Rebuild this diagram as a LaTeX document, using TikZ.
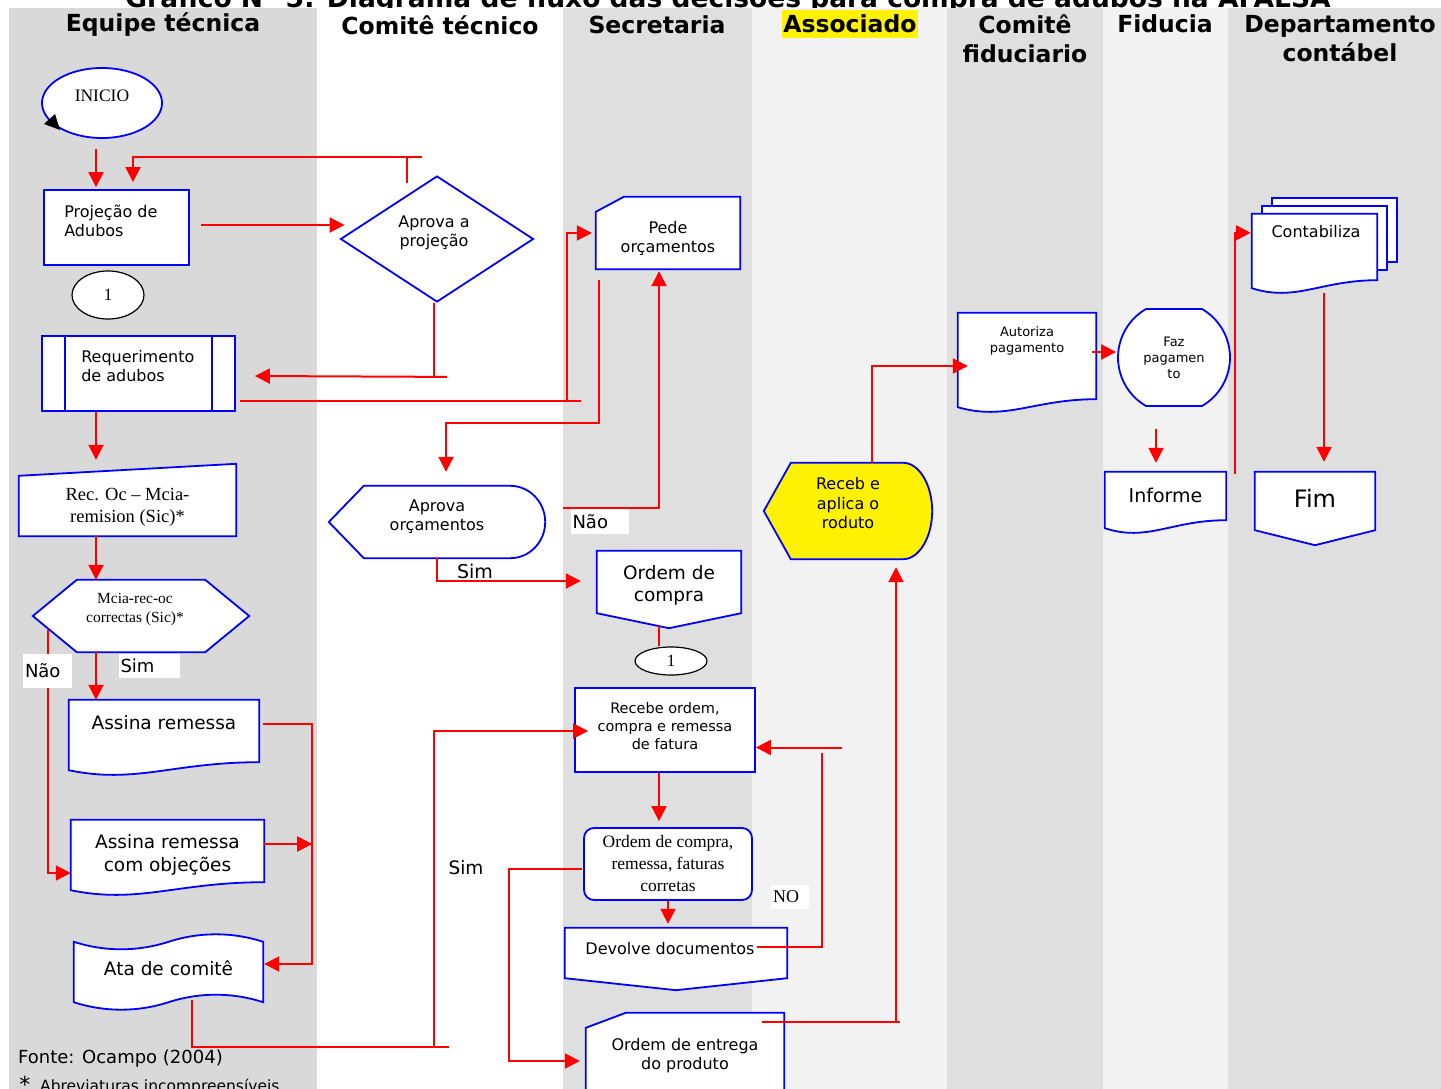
\documentclass[tikz,border=0pt]{standalone}
\usepackage{fontspec}
\setmainfont{DejaVu Sans}
\newfontfamily\timesfont{Liberation Serif}
\usepackage{xcolor}
\usepackage{tikz}
\usetikzlibrary{shapes,arrows.meta,positioning,calc,backgrounds}

\definecolor{lanegray}{RGB}{217,217,217}
\definecolor{lanemid}{RGB}{223,223,223}
\definecolor{lanelight}{RGB}{242,242,242}

\begin{document}
\begin{tikzpicture}[x=1pt, y=-1pt, >={Triangle[length=15pt, width=15pt]}]
    % Styles
    \tikzstyle{block} = [rectangle, draw=blue, fill=white, line width=1.8pt, inner sep=0pt]
    \tikzstyle{oval} = [ellipse, draw=blue, fill=white, line width=1.8pt, inner sep=0pt]
    \tikzstyle{outline} = [draw=blue, fill=white, line width=1.8pt]
    \tikzstyle{holder} = [rectangle, inner sep=0pt]
    \tikzstyle{connector} = [ellipse, draw=black, fill=white, line width=1.2pt, inner sep=0pt, font=\timesfont\fontsize{17}{20}\selectfont]
    \tikzstyle{txt} = [align=center, inner sep=0pt, font=\fontsize{16}{19}\selectfont]
    \tikzstyle{serif} = [align=center, inner sep=0pt, font=\timesfont\fontsize{17.5}{22}\selectfont]
    \tikzstyle{head} = [align=center, font=\bfseries\fontsize{23.5}{29}\selectfont]
    \tikzstyle{tag} = [fill=white, inner sep=0pt, align=left, font=\fontsize{18}{21}\selectfont]
    \tikzstyle{line} = [draw=red, line width=2pt, ->]
    \tikzstyle{wire} = [draw=red, line width=2pt]

    \useasboundingbox (0,0) rectangle (1441,1089);

    % Lanes
    \begin{scope}[on background layer]
        \node[head, anchor=base, font=\bfseries\fontsize{26.5}{30}\selectfont] (title) at (728,7.5) {Gráfico N° 5: Diagrama de fluxo das decisões para compra de adubos na AFALSA};
        \fill[lanegray] (9,8) rectangle (317,1089);
        \fill[white] (317,8) rectangle (563,1089);
        \fill[lanemid] (563,8) rectangle (752,1089);
        \fill[lanelight] (752,8) rectangle (947,1089);
        \fill[lanemid] (947,8) rectangle (1103,1089);
        \fill[lanelight] (1103,8) rectangle (1228,1089);
        \fill[lanemid] (1228,8) rectangle (1441,1089);
    \end{scope}

    % Headers
    \node[head] (h-equipe) at (163,25) {Equipe técnica};
    \node[head] (h-comite) at (440,25) {Comitê técnico};
    \node[head] (h-secret) at (657,25) {Secretaria};
    \node[head, fill=yellow, inner sep=1pt, minimum height=28pt] (h-assoc) at (850,24) {Associado};
    \node[head] (h-comfid) at (1025,39) {Comitê\\fiduciario};
    \node[head] (h-fiducia) at (1165,24) {Fiducia};
    \node[head] (h-depto) at (1340,39) {Departamento\\contábel};

    % Nodes: Equipe tecnica
    \node[oval, minimum width=120pt, minimum height=70pt] (inicio) at (102,103) {};
    \node[serif] (inicio-t) at ($(inicio)+(0,-7)$) {INICIO};
    \fill[black] ($(inicio)+(-58,21)$) -- ($(inicio)+(-47,11)$) -- ($(inicio)+(-42,27)$) -- cycle;
    \node[block, minimum width=145pt, minimum height=75pt] (projecao) at (116.5,227.5) {};
    \node[txt, anchor=west, align=left] (projecao-t) at ($(projecao.west)+(21,-7)$) {Projeção de\\Adubos};
    \node[connector, minimum width=72pt, minimum height=48pt] (c1) at (108,295) {1};
    \node[block, minimum width=193pt, minimum height=75pt] (req) at (138.5,373.5) {};
    \draw[blue, line width=1.8pt] ($(req.north west)+(24,0)$) -- ($(req.south west)+(24,0)$)
        ($(req.north east)+(-24,0)$) -- ($(req.south east)+(-24,0)$);
    \node[txt, anchor=west, align=left] (req-t) at ($(req.west)+(40,-7)$) {Requerimento\\de adubos};
    \node[holder, minimum width=217pt, minimum height=72pt] (recoc) at (127.5,500) {};
    \node[serif, font=\timesfont\fontsize{18.5}{22}\selectfont] (recoc-t) at ($(recoc)+(0,7)$) {Rec. Oc – Mcia-\\remision (Sic)*};
    \node[holder, minimum width=216pt, minimum height=72pt] (hexa) at (141,616) {};
    \node[serif, font=\timesfont\fontsize{15.5}{19}\selectfont] (hexa-t) at ($(hexa)+(-6,-6)$) {Mcia-rec-oc\\correctas (Sic)*};
    \node[holder, minimum width=190pt, minimum height=76pt] (assina) at (164,738) {};
    \node[txt, font=\fontsize{18.5}{23}\selectfont] (assina-t) at ($(assina)+(0,-15)$) {Assina remessa};
    \node[holder, minimum width=193pt, minimum height=76pt] (objecoes) at (167.5,858) {};
    \node[txt, font=\fontsize{18.5}{23}\selectfont] (objecoes-t) at ($(objecoes)+(0,-3.5)$) {Assina remessa\\com objeções};
    \node[holder, minimum width=189pt, minimum height=60pt] (ata) at (168.5,972) {};
    \node[txt, font=\fontsize{18.5}{23}\selectfont] (ata-t) at ($(ata)+(0,-4)$) {Ata de comitê};

    % Nodes: Comite tecnico
    \node[diamond, draw=blue, fill=white, line width=1.8pt, inner sep=0pt, minimum width=193pt, minimum height=126pt] (ap) at (437,239) {};
    \node[txt] (ap-t) at ($(ap)+(-3,-6)$) {Aprova a\\projeção};
    \node[holder, minimum width=216pt, minimum height=72pt] (aprovaorc) at (437,522) {};
    \node[txt] (aprovaorc-t) at ($(aprovaorc)+(0,-5.5)$) {Aprova\\orçamentos};
    \node[txt, font=\fontsize{19}{22}\selectfont] (sim2) at (475,571) {Sim};
    \node[txt, font=\fontsize{18.5}{22}\selectfont] (sim3) at (466,868) {Sim};

    % Nodes: Secretaria
    \node[holder, minimum width=144pt, minimum height=72pt] (pede) at (668,233) {};
    \node[txt] (pede-t) at ($(pede)+(0,5)$) {Pede\\orçamentos};
    \node[holder, minimum width=144pt, minimum height=77pt] (ordem) at (669,589.5) {};
    \node[txt, font=\fontsize{18.5}{22}\selectfont] (ordem-t) at ($(ordem)+(0,-4.5)$) {Ordem de\\compra};
    \node[connector, minimum width=72pt, minimum height=28pt] (c2) at (671,661) {1};
    \node[block, minimum width=180pt, minimum height=84pt] (recebe) at (665,730) {};
    \node[txt, font=\fontsize{14.5}{18}\selectfont] (recebe-t) at ($(recebe)+(0,-4)$) {Recebe ordem,\\compra e remessa\\de fatura};
    \node[block, rounded corners=10pt, serif, minimum width=168pt, minimum height=72pt] (corretas) at (668,864) {Ordem de compra,\\remessa, faturas\\corretas};
    \node[holder, minimum width=222pt, minimum height=62pt] (devolve) at (676,959) {};
    \node[txt] (devolve-t) at ($(devolve)+(-6,-10)$) {Devolve documentos};
    \node[holder, txt, minimum width=198pt, minimum height=86pt] (entrega) at (685,1056) {Ordem de entrega\\do produto};

    % Nodes: Associado, Comite fiduciario, Fiducia, Departamento
    \node[holder, minimum width=168pt, minimum height=96pt] (receb) at (848,511) {};
    \node[txt, font=\fontsize{16}{19.5}\selectfont] (receb-t) at ($(receb)+(0,-7.5)$) {Receb e\\aplica o\\roduto};
    \node[holder, minimum width=138pt, minimum height=100pt] (autoriza) at (1027,363) {};
    \node[txt, font=\fontsize{13}{16}\selectfont] (autoriza-t) at ($(autoriza)+(0,-22)$) {Autoriza\\pagamento};
    \node[rounded rectangle, rounded rectangle arc length=120, draw=blue, fill=white, line width=1.8pt, txt, font=\fontsize{13}{16}\selectfont, minimum width=112pt, minimum height=97pt] (faz) at (1174,357.5) {Faz\\pagamen\\to};
    \node[holder, minimum width=121pt, minimum height=62pt] (informe) at (1165.5,503) {};
    \node[txt, font=\fontsize{19}{22}\selectfont] (informe-t) at ($(informe)+(0,-8)$) {Informe};
    \node[holder, minimum width=125pt, minimum height=80pt] (contab) at (1314.5,254) {};
    \node[txt] (contab-t) at ($(contab)+(1.5,-22)$) {Contabiliza};
    \node[holder, minimum width=120pt, minimum height=73pt] (fim) at (1315,508.5) {};
    \node[txt, font=\fontsize{24}{28}\selectfont] (fim-t) at ($(fim)+(0,-10.5)$) {Fim};

    % Outlines
    \begin{scope}[on background layer]
        \foreach \off in {20,10}
            \path[outline] ($(contab.north west)+(\off,{-0.8*\off})$) rectangle ($(contab.south east)+(\off,{-16-0.8*\off})$);
        \foreach \nm in {assina,objecoes,autoriza,informe,contab}
            \path[outline] (\nm.north west) -- (\nm.north east) -- ($(\nm.south east)+(0,-14)$)
                .. controls ($(\nm.south east)!.45!(\nm.south west)+(0,-14)$) and ($(\nm.south east)!.65!(\nm.south west)+(0,8)$)
                .. ($(\nm.south west)+(0,-6)$) -- cycle;
        \foreach \nm/\dep in {ordem/15,devolve/12,fim/15}
            \path[outline] (\nm.north west) -- (\nm.north east) -- ($(\nm.south east)+(0,-\dep)$) -- (\nm.south) -- ($(\nm.south west)+(0,-\dep)$) -- cycle;
        \foreach \nm/\dx/\dy in {pede/28/15,entrega/40/15}
            \path[outline] ($(\nm.north west)+(0,\dy)$) -- ($(\nm.north west)+(\dx,0)$) -- (\nm.north east) -- (\nm.south east) -- (\nm.south west) -- cycle;
        \foreach \nm/\lft/\rgt/\bend/\col in {aprovaorc/35/35/20/white,receb/27/29/26/yellow}
            \path[outline, fill=\col] (\nm.west) -- ($(\nm.north west)+(\lft,0)$) -- ($(\nm.north east)+(-\rgt,0)$)
                .. controls ($(\nm.north east)+({-0.45*\rgt},0)$) and ($(\nm.east)+(0,-\bend)$) .. (\nm.east)
                .. controls ($(\nm.east)+(0,\bend)$) and ($(\nm.south east)+({-0.45*\rgt},0)$) .. ($(\nm.south east)+(-\rgt,0)$)
                -- ($(\nm.south west)+(\lft,0)$) -- cycle;
        \path[outline] (hexa.west) -- ($(hexa.north west)+(44,0)$) -- ($(hexa.north east)+(-44,0)$) -- (hexa.east)
            -- ($(hexa.south east)+(-44,0)$) -- ($(hexa.south west)+(44,0)$) -- cycle;
        \path[outline] (recoc.south west) -- ($(recoc.north west)+(0,12)$) -- (recoc.north east) -- (recoc.south east) -- cycle;
        \path[outline] (ata.north west) .. controls +(31,10) and +(-31,10) .. (ata.north)
            .. controls +(31,-10) and +(-31,-10) .. (ata.north east) -- (ata.south east)
            .. controls +(-31,-10) and +(31,-10) .. (ata.south)
            .. controls +(-31,10) and +(31,10) .. (ata.south west) -- cycle;
    \end{scope}

    % Paths
    \path [line] ($(inicio.south)+(-6,10)$) -- ($(projecao.north)+(-20.5,-2)$);
    \path [wire] ($(ap.north)+(-30,8)$) -- ($(ap.north)+(-30,-18)$);
    \path [line] ($(ap.north)+(-15,-18)$) -| ($(projecao.north)+(16.5,-7)$);
    \path [line] ($(projecao.east)+(11,-2.5)$) -- ($(ap.west)+(5,-14)$);
    \path [wire] ($(ap.south)+(-3,0)$) -- ($(ap.south)+(-3,74)$);
    \path [line] ($(ap.south)+(10,74)$) -- ($(req.east)+(19,2.5)$);
    \path [wire] ($(req.east)+(4,27.5)$) -- ($(req.east)+(345,27.5)$);
    \path [line] ($(req.east)+(331,27.5)$) |- ($(pede.west)+(-4,0)$);
    \path [line] ($(pede.south west)+(3,11)$) -- ($(pede.south west)+(3,154)$) -| ($(aprovaorc.north)+(9,-14)$);
    \path [line] ($(aprovaorc.east)+(18,-14)$) -| ($(pede.south)+(-9,2)$);
    \path [line] (aprovaorc.south) |- ($(ordem.west)+(-16,-8.5)$);
    \path [wire] ($(ordem.south)+(-10,-2)$) -- ($(c2.north)+(-12,0)$);
    \path [line] ($(req.south)+(-42.5,0)$) -- ($(recoc.north)+(-31.5,-4)$);
    \path [line] ($(recoc.south)+(-31.5,0)$) -- ($(hexa.north)+(-45,0)$);
    \path [line] ($(hexa.south)+(-45,0)$) -- ($(assina.north)+(-68,0)$);
    \path [line] ($(hexa.west)+(15,14)$) |- ($(objecoes.west)+(0,15)$);
    \path [line] ($(assina.north east)+(4,24)$) -| ($(ata.east)+(49,-8)$) -- ($(ata.east)+(1,-8)$);
    \path [line] ($(objecoes.east)+(0,-14)$) -- ($(objecoes.east)+(48,-14)$);
    \path [wire] ($(ata.south)+(23.5,-2)$) |- ($(ata.south)+(280.5,45)$);
    \path [line] ($(ata.south)+(265.5,45)$) |- ($(recebe.west)+(14,1)$);
    \path [line] ($(recebe.south)+(-6,0)$) -- ($(corretas.north)+(-9,-6)$);
    \path [line] (corretas.south) -- ($(devolve.north)+(-8,-4)$);
    \path [line] ($(corretas.west)+(-1,5)$) -- ($(corretas.west)+(-74,5)$) |- ($(entrega.west)+(-6,5)$);
    \path [wire] ($(devolve.north east)+(-30,19)$) -| ($(recebe.east)+(66,23)$);
    \path [line] ($(recebe.east)+(86,17.5)$) -- ($(recebe.east)+(0,17.5)$);
    \path [wire] ($(entrega.north east)+(-22,9)$) -- ($(entrega.north east)+(116,9)$);
    \path [line] ($(entrega.north east)+(112,9)$) -- ($(receb.south)+(48,8)$);
    \path [line] ($(receb.north)+(24,0)$) |- ($(autoriza.west)+(10,3)$);
    \path [line] ($(autoriza.east)+(-4,-11)$) -- ($(faz.west)+(-1,-5.5)$);
    \path [line] ($(faz.south)+(-18,22)$) -- ($(informe.north)+(-9.5,-9)$);
    \path [line] ($(informe.north east)+(9,2)$) |- ($(contab.north west)+(-1,19)$);
    \path [line] ($(contab.south)+(9.5,-1)$) -- ($(fim.north)+(9,-10)$);

    % Labels
    \node[tag, minimum width=49pt, minimum height=34pt, text width=45pt] (nao1) at (47.5,671) {Não};
    \node[tag, minimum width=61pt, minimum height=24pt, text width=58pt] (sim1) at (149.5,666) {Sim};
    \node[tag, minimum width=58pt, minimum height=25pt, text width=55pt] (nao2) at (600,521.5) {Não};
    \node[tag, font=\timesfont\fontsize{18}{21}\selectfont, minimum width=38pt, minimum height=24pt, text width=34pt] (no) at (790,897) {NO};

    % Notes
    \node[anchor=base west, inner sep=0pt, font=\fontsize{18}{21}\selectfont] (fonte) at (18,1063) {Fonte: Ocampo (2004)};
    \node[inner sep=0pt, font=\fontsize{22}{24}\selectfont] (star) at (25,1084) {*};
    \node[anchor=base west, inner sep=0pt, font=\fontsize{15.5}{18}\selectfont] (nota) at (40,1091) {Abreviaturas incompreensíveis};
\end{tikzpicture}
\end{document}
